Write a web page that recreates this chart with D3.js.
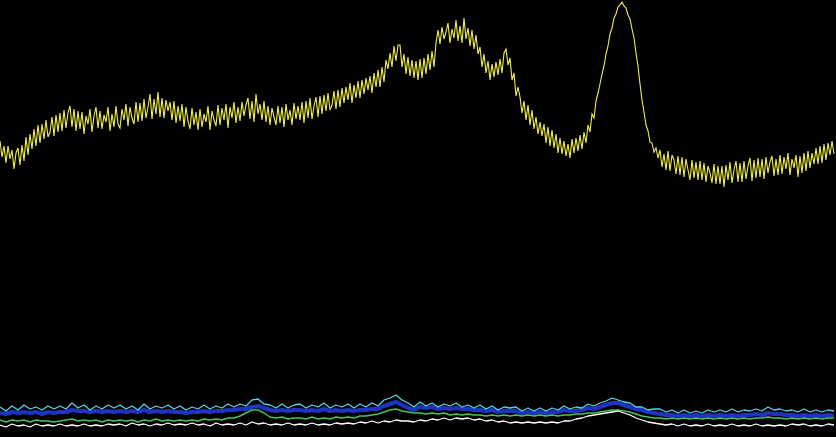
<!DOCTYPE html>
<html>
<head>
<meta charset="utf-8">
<script src="https://cdnjs.cloudflare.com/ajax/libs/d3/7.8.5/d3.min.js"></script>
<style>
  html, body { margin: 0; padding: 0; background: #000; overflow: hidden; }
</style>
</head>
<body>
<div id="chart"></div>
<script>
// spectrum values (intensity, arbitrary units)
// main trace, one value every 2 channels
var mainTrace = [
	296, 280, 291, 274, 291, 278, 287, 268, 284, 289,
	272, 292, 276, 300, 282, 303, 288, 308, 291, 312,
	294, 313, 298, 317, 300, 305, 320, 301, 322, 305,
	324, 306, 327, 309, 324, 331, 310, 328, 306, 326,
	308, 325, 303, 321, 313, 328, 305, 321, 330, 309,
	326, 308, 322, 315, 330, 306, 323, 310, 331, 313,
	309, 328, 317, 333, 311, 330, 319, 313, 335, 315,
	334, 316, 338, 319, 330, 343, 318, 338, 323, 345,
	320, 339, 319, 337, 326, 335, 317, 336, 314, 331,
	316, 333, 310, 330, 316, 308, 329, 312, 325, 307,
	328, 310, 323, 315, 331, 307, 326, 317, 311, 332,
	312, 329, 317, 333, 309, 330, 319, 335, 314, 330,
	316, 335, 321, 332, 339, 318, 336, 315, 343, 323,
	333, 317, 336, 315, 331, 312, 329, 320, 312, 331,
	314, 330, 310, 333, 317, 327, 312, 334, 318, 331,
	317, 335, 314, 336, 319, 339, 318, 331, 340, 320,
	341, 323, 342, 326, 344, 327, 332, 346, 328, 347,
	330, 349, 334, 350, 337, 354, 334, 352, 339, 356,
	339, 357, 343, 359, 347, 361, 344, 364, 350, 367,
	350, 370, 355, 377, 368, 384, 370, 391, 376, 392,
	392, 370, 383, 363, 380, 361, 377, 359, 376, 357,
	378, 359, 379, 363, 383, 367, 386, 370, 394, 407,
	393, 410, 398, 405, 414, 394, 408, 399, 417, 396,
	411, 394, 419, 398, 409, 391, 407, 388, 402, 383,
	390, 370, 383, 364, 376, 357, 373, 360, 375, 362,
	378, 364, 384, 388, 372, 379, 357, 364, 341, 350,
	340, 324, 336, 317, 332, 312, 327, 308, 320, 303,
	315, 301, 313, 294, 310, 291, 307, 289, 303, 284,
	299, 283, 296, 281, 293, 279, 298, 284, 299, 286,
	302, 288, 305, 294, 312, 305, 323, 319, 336, 344,
	353, 363, 371, 383, 391, 403, 409, 419, 423, 430,
	432, 435, 431, 429, 422, 418, 408, 399, 384, 371,
	353, 337, 325, 312, 306, 295, 294, 285, 289, 279,
	287, 270, 283, 267, 286, 266, 282, 277, 263, 281,
	262, 280, 260, 278, 267, 257, 277, 259, 275, 257,
	276, 257, 274, 255, 271, 264, 254, 273, 253, 271,
	253, 271, 250, 272, 257, 275, 254, 267, 276, 255,
	274, 255, 276, 258, 271, 279, 256, 277, 259, 279,
	260, 278, 258, 280, 264, 275, 281, 261, 278, 262,
	282, 263, 280, 268, 284, 262, 278, 269, 282, 260,
	281, 264, 284, 266, 286, 269, 284, 273, 289, 273,
	291, 274, 293, 277, 294, 282, 296, 283
];

// lower traces, one value every 6 channels
var cyanTrace = [
	30, 26, 31, 27, 32, 28, 30, 27, 31, 28,
	31, 28, 34, 29, 32, 27, 31, 28, 32, 29,
	32, 28, 31, 27, 33, 28, 31, 29, 32, 28,
	31, 27, 30, 28, 32, 28, 31, 29, 33, 30,
	33, 31, 37, 38, 33, 32, 29, 33, 29, 32,
	33, 29, 32, 30, 34, 29, 32, 30, 33, 29,
	33, 30, 34, 31, 37, 39, 42, 37, 34, 30,
	35, 31, 34, 30, 33, 31, 34, 30, 32, 29,
	32, 28, 31, 27, 30, 29, 30, 26, 29, 26,
	29, 26, 29, 27, 31, 28, 30, 29, 33, 31,
	34, 36, 39, 37, 35, 34, 30, 30, 27, 28,
	28, 25, 27, 24, 27, 24, 26, 24, 27, 25,
	27, 25, 28, 25, 27, 26, 28, 26, 30, 27,
	28, 26, 27, 25, 28, 25, 27, 25, 27, 26
];

var blueTrace = [
	24, 23, 25, 24, 25, 24, 25, 23, 25, 24,
	25, 25, 27, 26, 26, 25, 26, 25, 26, 25,
	26, 25, 26, 25, 27, 25, 26, 25, 26, 25,
	25, 24, 25, 25, 26, 25, 26, 26, 27, 27,
	28, 28, 30, 31, 29, 27, 26, 27, 26, 27,
	27, 26, 27, 26, 28, 26, 27, 26, 27, 26,
	27, 27, 28, 28, 31, 33, 35, 32, 29, 27,
	30, 29, 30, 28, 29, 28, 29, 28, 28, 27,
	27, 26, 27, 25, 26, 26, 26, 24, 25, 24,
	25, 24, 25, 25, 27, 26, 26, 27, 29, 28,
	30, 32, 34, 34, 32, 30, 28, 27, 25, 24,
	23, 22, 22, 21, 22, 21, 22, 21, 22, 21,
	22, 21, 22, 21, 22, 22, 23, 22, 24, 23,
	23, 22, 22, 21, 22, 21, 22, 21, 22, 21
];

var greenTrace = [
	17, 15, 17, 16, 17, 15, 17, 16, 16, 15,
	16, 17, 18, 16, 17, 16, 17, 15, 17, 16,
	17, 16, 17, 15, 17, 16, 18, 16, 17, 16,
	17, 16, 17, 16, 18, 17, 18, 17, 19, 19,
	21, 24, 27, 27, 24, 20, 19, 20, 18, 19,
	19, 18, 20, 18, 19, 18, 20, 19, 20, 19,
	21, 21, 22, 23, 25, 27, 28, 26, 25, 24,
	24, 23, 24, 23, 24, 22, 23, 22, 23, 22,
	22, 21, 22, 21, 22, 21, 22, 21, 22, 21,
	22, 21, 22, 21, 22, 22, 23, 23, 24, 24,
	25, 26, 27, 27, 26, 25, 23, 21, 20, 19,
	19, 18, 19, 18, 19, 18, 19, 18, 19, 18,
	19, 18, 19, 18, 19, 18, 19, 19, 20, 19,
	19, 18, 19, 18, 19, 18, 19, 18, 19, 19
];

var whiteTrace = [
	12, 10, 13, 11, 12, 10, 13, 11, 12, 11,
	13, 11, 12, 11, 13, 11, 12, 11, 13, 12,
	13, 11, 14, 12, 13, 11, 13, 12, 14, 12,
	13, 12, 14, 12, 13, 11, 14, 12, 13, 12,
	14, 12, 15, 13, 14, 12, 13, 12, 14, 12,
	13, 12, 14, 12, 13, 12, 14, 13, 14, 13,
	15, 14, 16, 14, 16, 15, 17, 16, 16, 15,
	17, 16, 18, 17, 19, 17, 19, 18, 19, 17,
	18, 16, 17, 15, 16, 14, 15, 14, 15, 14,
	15, 14, 15, 14, 16, 16, 18, 19, 21, 22,
	23, 24, 25, 26, 24, 22, 19, 17, 15, 14,
	13, 12, 13, 11, 13, 11, 12, 11, 13, 11,
	12, 11, 13, 11, 12, 11, 13, 11, 12, 11,
	12, 11, 13, 12, 13, 11, 12, 11, 13, 12
];

// channel step of each series
var mainStep = 2,
	lowStep = 6;

// set size and draw canvas
var width = 836,
	height = 437;

var canvas = d3.select("#chart").append("svg")
		.attr("width", width)
		.attr("height", height)
		.style("display", "block")
		.style("background", "#000");

// scales
var x = d3.scaleLinear()
		.domain([0, 836])
		.range([0, width]);

var y = d3.scaleLinear()
		.domain([0, 437])
		.range([height, 0]);

function traceLine(step) {
	return d3.line()
		.x(function(d, i){ return x(i * step) })
		.y(function(d){ return y(d) });
}

// lower traces, the blue band first so the others sit on it
var lower = [
	{values: blueTrace,  color: "#1f33c0", w: 4},
	{values: cyanTrace,  color: "#52d4e4", w: 1.3},
	{values: greenTrace, color: "#46c456", w: 1.4},
	{values: whiteTrace, color: "#ffffff", w: 1.3}
];

lower.forEach(function(s){
	canvas.append("path")
		.datum(s.values)
		.attr("fill", "none")
		.attr("stroke", s.color)
		.attr("stroke-width", s.w)
		.attr("stroke-linejoin", "round")
		.attr("d", traceLine(lowStep));
});

// main yellow trace
canvas.append("path")
	.datum(mainTrace)
	.attr("fill", "none")
	.attr("stroke", "#f2f040")
	.attr("stroke-width", 1.1)
	.attr("d", traceLine(mainStep));
</script>
</body>
</html>
